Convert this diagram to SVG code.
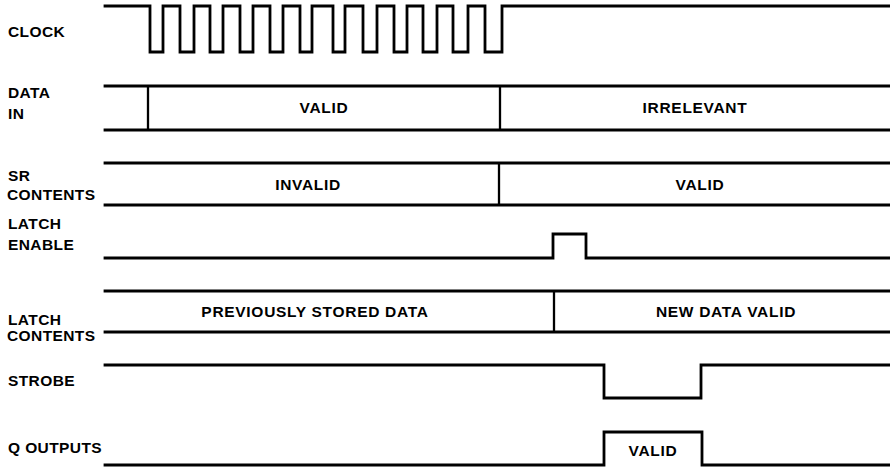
<svg xmlns="http://www.w3.org/2000/svg" width="890" height="467" viewBox="0 0 890 467">
<style>
  .sig { fill: none; stroke: #000; stroke-width: 2.8; stroke-linejoin: miter; stroke-linecap: square; }
  .edge { fill: none; stroke: #000; stroke-width: 2.3; }
  .lbl { font-family: "Liberation Sans", Arial, sans-serif; font-weight: bold; font-size: 15.5px; letter-spacing: 0.4px; fill: #000; }
  .val { font-family: "Liberation Sans", Arial, sans-serif; font-weight: bold; font-size: 15.5px; letter-spacing: 0.7px; fill: #000; text-anchor: middle; }
</style>
<rect width="890" height="467" fill="#fff"/>

<g id="clock">
  <text class="lbl" x="8" y="37">CLOCK</text>
  <path class="sig" d="M105 6 H150 V52 H163 V6 H180 V52 H194 V6 H210 V52 H223 V6 H240 V52 H253 V6 H270 V52 H283 V6 H300 V52 H312 V6 H333 V52 H345 V6 H363 V52 H377 V6 H394 V52 H407 V6 H423 V52 H437 V6 H453 V52 H468 V6 H485 V52 H502 V6 H890"/>
</g>

<g id="data-in">
  <text class="lbl" x="8" y="98">DATA</text>
  <text class="lbl" x="8" y="119">IN</text>
  <path class="sig" d="M105 86 H890 M105 130 H890"/>
  <path class="edge" d="M148 86 V130 M500 86 V130"/>
  <text class="val" x="324" y="113">VALID</text>
  <text class="val" x="695" y="113">IRRELEVANT</text>
</g>

<g id="sr-contents">
  <text class="lbl" x="8" y="181">SR</text>
  <text class="lbl" x="7" y="200">CONTENTS</text>
  <path class="sig" d="M105 163 H890 M105 205 H890"/>
  <path class="edge" d="M499 163 V205"/>
  <text class="val" x="308" y="190">INVALID</text>
  <text class="val" x="700" y="190">VALID</text>
</g>

<g id="latch-enable">
  <text class="lbl" x="8" y="229">LATCH</text>
  <text class="lbl" x="8" y="250">ENABLE</text>
  <path class="sig" d="M105 258 H553 V234 H586 V258 H890"/>
</g>

<g id="latch-contents">
  <text class="lbl" x="8" y="325">LATCH</text>
  <text class="lbl" x="7" y="341">CONTENTS</text>
  <path class="sig" d="M105 291 H890 M105 332 H890"/>
  <path class="edge" d="M554 291 V332"/>
  <text class="val" x="315" y="317">PREVIOUSLY STORED DATA</text>
  <text class="val" x="726" y="317">NEW DATA VALID</text>
</g>

<g id="strobe">
  <text class="lbl" x="8" y="386">STROBE</text>
  <path class="sig" d="M105 365 H604 V398 H701 V365 H890"/>
</g>

<g id="q-outputs">
  <text class="lbl" x="8" y="453">Q OUTPUTS</text>
  <path class="sig" d="M105 465 H604 V432 H702 V465 H890"/>
  <text class="val" x="653" y="456">VALID</text>
</g>
</svg>
